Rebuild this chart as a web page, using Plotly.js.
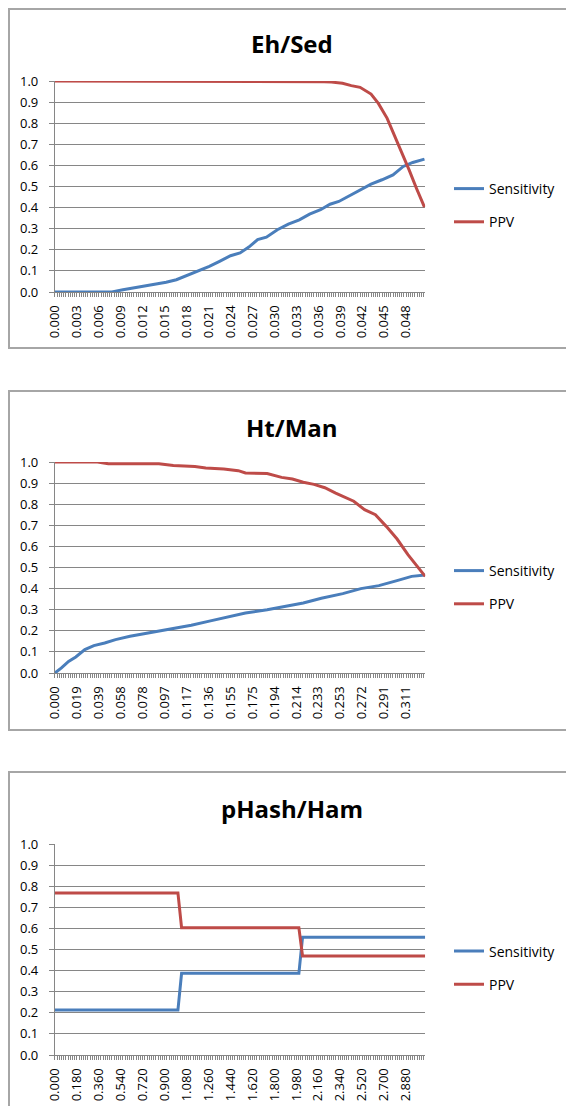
<!DOCTYPE html>
<html>
<head>
<meta charset="utf-8">
<script src="https://cdn.plot.ly/plotly-3.0.1.min.js"></script>
<style>
html,body{margin:0;padding:0;background:#fff;}
#chart{width:566px;height:1106px;}
</style>
</head>
<body>
<div id="chart"></div>
<script>
// ---------- Data ----------
const seriesNames = ['Sensitivity', 'PPV'];
const chartTitles = ['Eh/Sed', 'Ht/Man', 'pHash/Ham'];

// Chart 1: Eh/Sed
const ehSensX = [0, 0.0078, 0.0093, 0.0112, 0.0132, 0.0152, 0.0166, 0.0181, 0.0196, 0.0211, 0.0225, 0.0240, 0.0253, 0.0265, 0.0277, 0.0289, 0.0304, 0.0319, 0.0334, 0.0348, 0.0363, 0.0376, 0.0388, 0.0403, 0.0417, 0.0432, 0.0447, 0.0462, 0.0476, 0.0489, 0.0505];
const ehSens  = [0, 0, 0.011, 0.022, 0.032, 0.046, 0.058, 0.079, 0.098, 0.121, 0.145, 0.172, 0.185, 0.213, 0.248, 0.260, 0.295, 0.322, 0.342, 0.369, 0.390, 0.416, 0.429, 0.457, 0.484, 0.511, 0.532, 0.555, 0.595, 0.614, 0.630];
const ehPpvX  = [0, 0.0260, 0.0265, 0.0368, 0.0378, 0.0393, 0.0405, 0.0417, 0.0432, 0.0442, 0.0454, 0.0464, 0.0474, 0.0484, 0.0494, 0.0505];
const ehPpv   = [1.0, 1.0, 0.997, 0.997, 0.995, 0.989, 0.978, 0.970, 0.938, 0.894, 0.823, 0.744, 0.658, 0.579, 0.492, 0.402];
const ehTicks = ['0.000','0.003','0.006','0.009','0.012','0.015','0.018','0.021','0.024','0.027','0.030','0.033','0.036','0.039','0.042','0.045','0.048'];

// Chart 2: Ht/Man
const htSensX = [0, 0.0058, 0.0121, 0.0185, 0.0265, 0.0345, 0.0441, 0.0537, 0.0665, 0.0793, 0.0921, 0.1049, 0.1208, 0.1368, 0.1528, 0.1688, 0.188, 0.204, 0.220, 0.236, 0.255, 0.271, 0.287, 0.303, 0.316, 0.328];
const htSens  = [0, 0.024, 0.055, 0.076, 0.111, 0.130, 0.142, 0.158, 0.174, 0.186, 0.196, 0.210, 0.226, 0.246, 0.265, 0.284, 0.300, 0.316, 0.332, 0.354, 0.376, 0.400, 0.414, 0.438, 0.458, 0.464];
const htPpvX  = [0, 0.0377, 0.0473, 0.0921, 0.1049, 0.124, 0.1336, 0.1496, 0.1624, 0.1688, 0.188, 0.2008, 0.2104, 0.220, 0.2295, 0.2391, 0.2487, 0.2583, 0.2647, 0.2743, 0.2839, 0.2935, 0.3031, 0.3127, 0.3223, 0.328];
const htPpv   = [1.0, 1.0, 0.992, 0.992, 0.984, 0.979, 0.972, 0.967, 0.959, 0.948, 0.945, 0.927, 0.919, 0.904, 0.894, 0.878, 0.853, 0.828, 0.814, 0.774, 0.750, 0.695, 0.635, 0.561, 0.498, 0.458];
const htTicks = ['0.000','0.019','0.039','0.058','0.078','0.097','0.117','0.136','0.155','0.175','0.194','0.214','0.233','0.253','0.272','0.291','0.311'];

// Chart 3: pHash/Ham
const phX    = [0, 1.009, 1.039, 2.001, 2.031, 3.037];
const phSens = [0.213, 0.213, 0.387, 0.387, 0.558, 0.558];
const phPpv  = [0.768, 0.768, 0.603, 0.603, 0.469, 0.469];
const phTicks = ['0.000','0.180','0.360','0.540','0.720','0.900','1.080','1.260','1.440','1.620','1.800','1.980','2.160','2.340','2.520','2.700','2.880'];

// ---------- Styling ----------
const W = 566, H = 1106;
const BLUE = '#4A7EBB', RED = '#BE4B48', GRID = '#868686';
const FONT = '"Open Sans", "Liberation Sans", sans-serif';

// plot-area pixel geometry (top, bottom) per chart
const plotPx = [[81, 292], [462, 673], [844, 1055]];
const boxPx  = [[9, 348], [391, 730], [772, 1111]];
const titlePx = [43, 427, 808];
const legendMidPx = [205.5, 587.5, 968];
const xLeft = 54.9, xRight = 425.2;

const xSpecs = [
  {ticks: ehTicks, step: 0.003,   end: 0.0506},
  {ticks: htTicks, step: 0.01944, end: 0.328},
  {ticks: phTicks, step: 0.18,    end: 3.037}
];

const py = p => 1 - p / H;

const traces = [];
const seriesData = [
  [[ehSensX, ehSens], [ehPpvX, ehPpv]],
  [[htSensX, htSens], [htPpvX, htPpv]],
  [[phX, phSens], [phX, phPpv]]
];
seriesData.forEach((pair, i) => {
  const sfx = i === 0 ? '' : String(i + 1);
  pair.forEach((xy, j) => {
    traces.push({
      type: 'scatter', mode: 'lines',
      x: xy[0], y: xy[1],
      name: seriesNames[j],
      xaxis: 'x' + sfx, yaxis: 'y' + sfx,
      legend: 'legend' + sfx,
      legendgroup: 'g' + i + '_' + j,
      line: {color: j === 0 ? BLUE : RED, width: 3},
      hoverinfo: 'skip'
    });
  });
});

const layout = {
  width: W, height: H,
  margin: {l: 0, r: 0, t: 0, b: 0},
  paper_bgcolor: '#ffffff', plot_bgcolor: '#ffffff',
  font: {family: FONT, size: 13, color: '#000'},
  showlegend: true,
  annotations: [], shapes: []
};

for (let i = 0; i < 3; i++) {
  const sfx = i === 0 ? '' : String(i + 1);
  const spec = xSpecs[i];
  layout['xaxis' + sfx] = {
    domain: [xLeft / W, xRight / W],
    anchor: 'y' + sfx,
    range: [0, spec.end],
    tickmode: 'array',
    tickvals: spec.ticks.map((_, k) => k * spec.step),
    ticktext: spec.ticks,
    tickangle: -90,
    ticks: 'outside', ticklen: 4, tickcolor: GRID, tickwidth: 1,
    ticklabelstandoff: 3,
    minor: {dtick: spec.step / 10, tick0: 0, ticks: 'outside', ticklen: 4, tickcolor: GRID, tickwidth: 1, showgrid: false},
    showline: true, linecolor: GRID, linewidth: 1,
    showgrid: false, zeroline: false,
    tickfont: {family: FONT, size: 13, color: '#000'},
    fixedrange: true
  };
  layout['yaxis' + sfx] = {
    domain: [py(plotPx[i][1]), py(plotPx[i][0])],
    anchor: 'x' + sfx,
    range: [0, 1],
    tick0: 0, dtick: 0.1, tickformat: '.1f',
    ticks: 'outside', ticklen: 5, tickcolor: GRID, tickwidth: 1,
    ticklabelstandoff: 8,
    showline: true, linecolor: GRID, linewidth: 1,
    showgrid: true, gridcolor: GRID, gridwidth: 1,
    zeroline: false,
    tickfont: {family: FONT, size: 13, color: '#000'},
    fixedrange: true
  };
  layout['legend' + sfx] = {
    x: 449 / W, xanchor: 'left',
    y: py(legendMidPx[i]), yanchor: 'middle',
    bgcolor: 'rgba(0,0,0,0)', borderwidth: 0,
    font: {family: FONT, size: 14, color: '#000'},
    tracegroupgap: 12,
    itemwidth: 30
  };
  layout.annotations.push({
    xref: 'paper', yref: 'paper',
    x: 291.5 / W, y: py(titlePx[i]),
    xanchor: 'center', yanchor: 'middle',
    text: '<b>' + chartTitles[i] + '</b>',
    showarrow: false,
    font: {family: FONT, size: 24, color: '#000'}
  });
  layout.shapes.push({
    type: 'rect', xref: 'paper', yref: 'paper', layer: 'below',
    x0: 9 / W, x1: 1.02, y0: py(boxPx[i][1]), y1: py(boxPx[i][0]),
    line: {color: '#A6A6A6', width: 2}, fillcolor: 'rgba(0,0,0,0)'
  });
}

Plotly.newPlot('chart', traces, layout, {displayModeBar: false, staticPlot: true});
</script>
</body>
</html>
